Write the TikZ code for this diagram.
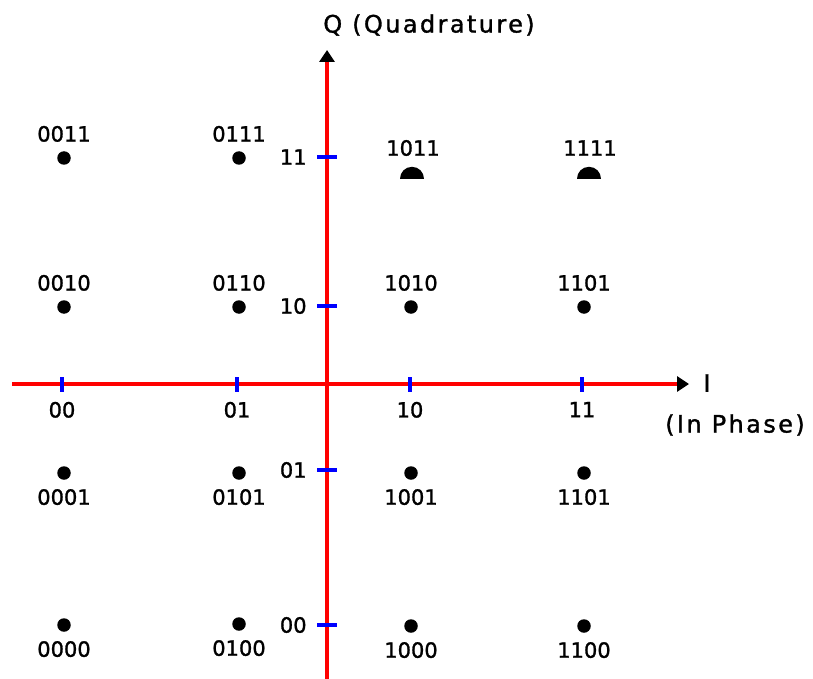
\documentclass[tikz,border=0pt]{standalone}
\usepackage{fontspec}
\setmainfont[FakeBold=1.3]{DejaVu Sans}
\newfontfamily\spacedfont[LetterSpace=10, FakeBold=1.3]{DejaVu Sans}
\usetikzlibrary{arrows.meta, positioning, shapes.geometric}

\begin{document}
\begin{tikzpicture}[
    x=1pt, y=-1pt,
    node distance=9pt,
    axisline/.style={draw=red, line width=4.5pt, -{Triangle[length=12pt, width=15pt, color=black]}},
    xtick/.style={fill=blue, inner sep=0pt, minimum width=4.5pt, minimum height=15pt},
    ytick/.style={fill=blue, inner sep=0pt, minimum width=20pt, minimum height=4.5pt},
    sym/.style={circle, fill=black, inner sep=0pt, minimum size=13.5pt},
    halfsym/.style={semicircle, fill=black, inner sep=0pt, minimum size=12pt, anchor=chord center},
    bits/.style={font=\fontsize{21}{21}\selectfont, inner sep=0pt},
    ttl/.style={font=\spacedfont\fontsize{24}{25}\selectfont, inner sep=0pt}
]
\useasboundingbox (0,0) rectangle (813,679);

% axes
\coordinate (xw) at (12,384);
\coordinate (xe) at (689,384);
\coordinate (ys) at (327,679);
\coordinate (yn) at (327,50);
\draw[axisline] (xw) -- (xe);
\draw[axisline] (ys) -- (yn);

\node[ttl] (qlab) at (429,25) {Q (Quadrature)};
\node[ttl] (ilab) at (707,383) {I};
\node[ttl] (phlab) at (735,425) {(In Phase)};

% ticks on I
\node[xtick] (tx1) at (62,384) {};
\node[xtick] (tx2) at (237,384) {};
\node[xtick] (tx3) at (410,384) {};
\node[xtick] (tx4) at (582,384) {};
\node[bits, below=10pt of tx1] (lx1) {00};
\node[bits, below=10pt of tx2] (lx2) {01};
\node[bits, below=10pt of tx3] (lx3) {10};
\node[bits, below=10pt of tx4] (lx4) {11};

% ticks on Q
\node[ytick] (ty1) at (327,157) {};
\node[ytick] (ty2) at (327,306) {};
\node[ytick] (ty3) at (327,470) {};
\node[ytick] (ty4) at (327,625) {};
\node[bits, left=10pt of ty1] (ly1) {11};
\node[bits, left=10pt of ty2] (ly2) {10};
\node[bits, left=10pt of ty3] (ly3) {01};
\node[bits, left=10pt of ty4] (ly4) {00};

% constellation points
\node[sym] (d11) at (64,158) {};
\node[sym] (d12) at (239,158) {};
\node[halfsym] (d13) at (412,179) {};
\node[halfsym] (d14) at (589,179) {};
\node[bits, above=of d11] (b11) {0011};
\node[bits, above=of d12] (b12) {0111};
\node[bits] (b13) at (413,148) {1011};
\node[bits] (b14) at (590,148) {1111};

\node[sym] (d21) at (64,307) {};
\node[sym] (d22) at (239,307) {};
\node[sym] (d23) at (411,307) {};
\node[sym] (d24) at (584,307) {};
\node[bits, above=of d21] (b21) {0010};
\node[bits, above=of d22] (b22) {0110};
\node[bits, above=of d23] (b23) {1010};
\node[bits, above=of d24] (b24) {1101};

\node[sym] (d31) at (64,473) {};
\node[sym] (d32) at (239,473) {};
\node[sym] (d33) at (411,473) {};
\node[sym] (d34) at (584,473) {};
\node[bits, below=of d31] (b31) {0001};
\node[bits, below=of d32] (b32) {0101};
\node[bits, below=of d33] (b33) {1001};
\node[bits, below=of d34] (b34) {1101};

\node[sym] (d41) at (64,625) {};
\node[sym] (d42) at (239,624) {};
\node[sym] (d43) at (411,626) {};
\node[sym] (d44) at (584,626) {};
\node[bits, below=of d41] (b41) {0000};
\node[bits, below=of d42] (b42) {0100};
\node[bits, below=of d43] (b43) {1000};
\node[bits, below=of d44] (b44) {1100};
\end{tikzpicture}
\end{document}
